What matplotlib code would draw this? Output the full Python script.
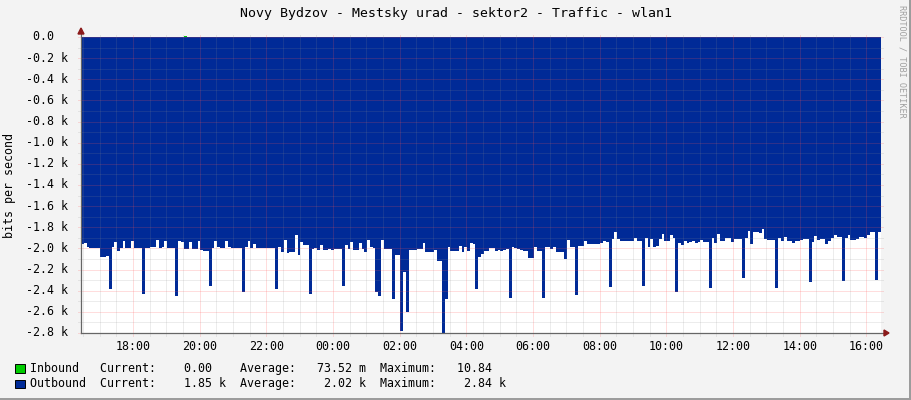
import numpy as np
import matplotlib
matplotlib.use('Agg')
import matplotlib.pyplot as plt
from matplotlib.transforms import blended_transform_factory
from matplotlib.patches import Rectangle, Polygon
from matplotlib.lines import Line2D

W, H = 911, 400
MONO = 'DejaVu Sans Mono'

title = 'Novy Bydzov - Mestsky urad - sektor2 - Traffic - wlan1'
ylabel = 'bits per second'
watermark = 'RRDTOOL / TOBI OETIKER'

# 5 minute samples, starting 16:26 (hours since midnight of day 1)
start_hour = 16 + 26.4 / 60
step_hours = 5 / 60

# outbound traffic, bits per second (drawn as negative area)
outbound = [
    1960, 1950, 1990, 1995, 1995, 1995, 2000, 2080, 2080, 2070, 2380, 1985,
    1935, 2020, 1995, 1930, 1995, 1995, 1930, 1995, 2000, 2000, 2430, 1995,
    2000, 1985, 1990, 1920, 1995, 1990, 1925, 1995, 1995, 1995, 2450, 1930,
    1935, 2005, 2005, 1935, 2005, 2005, 1930, 2015, 2020, 2025, 2360, 1995,
    1930, 1990, 1995, 1995, 1925, 1990, 1995, 1995, 1995, 2000, 2410, 1990,
    1925, 2000, 1955, 1995, 1995, 2000, 2000, 2000, 2000, 2000, 2380, 1985,
    2030, 1920, 2045, 2030, 2030, 1875, 2065, 1935, 1965, 1970, 2430, 2005,
    2000, 2015, 1965, 2015, 2015, 2005, 2015, 2005, 2005, 2005, 2360, 1965,
    2005, 1936, 2015, 2015, 1952, 2005, 2030, 1920, 1985, 2000, 2410, 2450,
    1920, 2005, 2005, 2005, 2480, 2060, 2060, 2780, 2220, 2600, 2015, 2015,
    2015, 2005, 2005, 1952, 2031, 2031, 2031, 2015, 2120, 2120, 2840, 2480,
    1983, 2024, 2024, 2024, 1974, 2037, 1983, 2024, 1952, 1955, 2383, 2078,
    2050, 2024, 2024, 1995, 1993, 2024, 2015, 2024, 2015, 2010, 2466, 1986,
    1993, 2005, 2015, 2020, 2020, 2087, 2087, 1986, 2024, 2024, 2466, 1986,
    1990, 2005, 1983, 2037, 2037, 2037, 2100, 1920, 1983, 1990, 2441, 1974,
    1974, 1930, 1961, 1961, 1961, 1961, 1961, 1952, 1930, 1935, 2362, 1911,
    1845, 1911, 1930, 1930, 1930, 1930, 1930, 1898, 1930, 1930, 2352, 1904,
    1983, 1911, 1983, 1975, 1911, 1867, 1930, 1930, 1873, 1900, 2415, 1952,
    1967, 1930, 1952, 1940, 1930, 1952, 1940, 1920, 1936, 1936, 2377, 1898,
    1952, 1867, 1925, 1930, 1904, 1904, 1942, 1911, 1911, 1911, 2283, 1904,
    1835, 1961, 1848, 1848, 1857, 1816, 1911, 1920, 1920, 1920, 2371, 1904,
    1930, 1889, 1930, 1930, 1952, 1930, 1930, 1920, 1911, 1911, 2314, 1936,
    1879, 1920, 1911, 1911, 1961, 1930, 1904, 1873, 1889, 1889, 2308, 1898,
    1873, 1920, 1920, 1911, 1889, 1889, 1904, 1873, 1848, 1848, 2298, 1848,
]
# inbound traffic, bits per second (almost always zero)
inbound = [0.0] * 37 + [10.84] + [0.0] * 250

hour_ticks = [18, 20, 22, 24, 26, 28, 30, 32, 34, 36, 38, 40]
hour_labels = ['18:00', '20:00', '22:00', '00:00', '02:00', '04:00',
               '06:00', '08:00', '10:00', '12:00', '14:00', '16:00']
y_ticks = [0, -200, -400, -600, -800, -1000, -1200, -1400,
           -1600, -1800, -2000, -2200, -2400, -2600, -2800]
y_labels = [' 0.0  ', '-0.2 k', '-0.4 k', '-0.6 k', '-0.8 k', '-1.0 k',
            '-1.2 k', '-1.4 k', '-1.6 k', '-1.8 k', '-2.0 k', '-2.2 k',
            '-2.4 k', '-2.6 k', '-2.8 k']

legend_names = ['Inbound', 'Outbound']
legend_colors = ['#00CC00', '#002A97']
cur_vals = ['0.00', '1.85']
cur_units = [' ', 'k']
avg_vals = ['73.52', '2.02']
avg_units = ['m', 'k']
max_vals = ['10.84', '2.84']
max_units = [' ', 'k']

BG = '#F3F3F3'
MINOR = (0.55, 0.55, 0.55, 0.32)
MAJOR = (1.0, 0.32, 0.32, 0.38)
AXIS = '#666666'
ARROW = '#8B1A1A'


def fx(x):
    return x / W


def fy(y):
    return 1 - y / H


fig = plt.figure(figsize=(W / 100, H / 100), dpi=100, facecolor=BG)
ax = fig.add_axes([fx(81), fy(333), 800 / W, 296 / H])
ax.set_facecolor('white')
for s in ax.spines.values():
    s.set_visible(False)
ax.set_xticks([])
ax.set_yticks([])

n = len(outbound)
edges = start_hour + np.arange(n + 1) * step_hours
t0, t1 = edges[0], edges[-1]
ymin, ymax = -2800, 0
ax.set_xlim(t0, t1)
ax.set_ylim(ymin, ymax)

ax.stairs(-np.array(outbound, dtype=float), edges, baseline=0, fill=True,
          color=legend_colors[1], linewidth=0, zorder=1)
ax.stairs(np.array(inbound), edges, baseline=0, fill=True,
          color=legend_colors[0], linewidth=0, zorder=2, clip_on=False)

# dotted grid (drawn over the data like rrdtool does), a bit past the edges
dx = 3 * (t1 - t0) / 800
dy = 3 * (ymax - ymin) / 296
dots = (0, (1, 1))
for k in range(0, 29):
    yv = -100 * k
    col = MAJOR if k % 2 == 0 else MINOR
    ax.add_line(Line2D([t0 - dx, t1 + dx], [yv, yv], color=col, lw=0.72,
                       ls=dots, clip_on=False, zorder=3, snap=True))
half_hours = np.arange(np.ceil(t0 * 2) / 2, t1, 0.5)
for hv in half_hours:
    col = MAJOR if (hv % 2 == 0) else MINOR
    ax.add_line(Line2D([hv, hv], [ymin - dy, ymax + dy], color=col, lw=0.72,
                       ls=dots, clip_on=False, zorder=3, snap=True))

# axes with arrows
fig.add_artist(Line2D([fx(81), fx(885)], [fy(333), fy(333)], color=AXIS,
                      lw=0.9, zorder=5))
fig.add_artist(Line2D([fx(81), fx(81)], [fy(333), fy(31)], color=AXIS,
                      lw=0.9, zorder=5))
fig.add_artist(Polygon([(fx(884), fy(330)), (fx(889), fy(333)),
                        (fx(884), fy(336))], closed=True, color=ARROW, zorder=6))
fig.add_artist(Polygon([(fx(78), fy(34)), (fx(81), fy(28)),
                        (fx(84), fy(34))], closed=True, color=ARROW, zorder=6))

# tick labels
tr_x = blended_transform_factory(ax.transData, fig.transFigure)
for hv, lab in zip(hour_ticks, hour_labels):
    fig.text(hv, fy(346), lab, transform=tr_x, ha='center', va='center',
             family=MONO, fontsize=8.4)
tr_y = blended_transform_factory(fig.transFigure, ax.transData)
for yv, lab in zip(y_ticks, y_labels):
    fig.text(fx(25.5), yv, lab, transform=tr_y, ha='left', va='center',
             family=MONO, fontsize=8.4)

fig.text(0.5, fy(14), title, ha='center', va='center', family=MONO,
         fontsize=9.5)
fig.text(fx(10), fy(185), ylabel, ha='center', va='center', rotation=90,
         family=MONO, fontsize=8.4)
fig.text(fx(902), fy(61), watermark, ha='center', va='center', rotation=270,
         family=MONO, fontsize=6.1, color='#A0A0A0')

# legend
for i, name in enumerate(legend_names):
    yc = 368.5 + i * 15.5
    fig.add_artist(Rectangle((fx(15.5), fy(yc + 4)), 9 / W, 8.5 / H,
                             facecolor=legend_colors[i], edgecolor='black',
                             lw=0.7, zorder=5))
    line = (f'{name:<10}Current:{cur_vals[i]:>8} {cur_units[i]}  '
            f'Average:{avg_vals[i]:>8} {avg_units[i]}  '
            f'Maximum:{max_vals[i]:>8} {max_units[i]}')
    fig.text(fx(29.5), fy(yc), line, ha='left', va='center', family=MONO,
             fontsize=8.4)

# shaded frame on the right and bottom edge
fig.add_artist(Rectangle((fx(909), 0), 2 / W, 1, facecolor='#9C9C9C',
                         edgecolor='none', zorder=0))
fig.add_artist(Rectangle((0, 0), 1, 2 / H, facecolor='#9C9C9C',
                         edgecolor='none', zorder=0))

fig.savefig('out.png', dpi=100, facecolor=BG)
